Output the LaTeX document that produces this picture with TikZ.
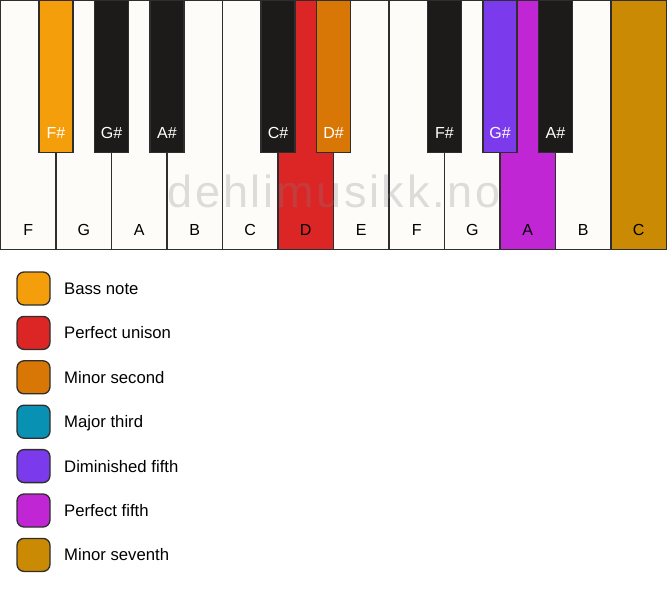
\documentclass[tikz,border=0pt]{standalone}
\usepackage{fontspec}
\setmainfont{Liberation Sans}
\usetikzlibrary{positioning}

\definecolor{ivory}{HTML}{FDFCF9}
\definecolor{ebony}{HTML}{1C1B1A}
\definecolor{keyline}{HTML}{2E2E2E}
\definecolor{bass}{HTML}{F59E0B}
\definecolor{unison}{HTML}{DC2626}
\definecolor{minsecond}{HTML}{D97706}
\definecolor{majthird}{HTML}{0891B2}
\definecolor{dimfifth}{HTML}{7C3AED}
\definecolor{perfifth}{HTML}{C026D3}
\definecolor{minseventh}{HTML}{CA8A04}

\begin{document}
\begin{tikzpicture}[x=1pt,y=-1pt,
			every node/.style={font=\fontsize{16pt}{19pt}\selectfont},
			white key/.style={rectangle,draw=keyline,fill=ivory,line width=1.3pt,
				outer sep=0pt,inner sep=0pt,minimum width=55.5pt,minimum height=249pt},
			black key/.style={rectangle,draw=keyline,fill=ebony,line width=1.3pt,
				outer sep=0pt,inner sep=0pt,minimum width=34pt,minimum height=152pt,anchor=north},
			key label/.style={anchor=south,yshift=10pt},
			bk label/.style={key label,text=white},
			swatch/.style={rectangle,rounded corners=7pt,draw=keyline,line width=1.3pt,
				outer sep=0pt,minimum size=33pt,inner sep=0pt},
			legend text/.style={anchor=west,inner sep=0pt,text height=12pt,text depth=0pt,
				font=\fontsize{16.7pt}{20pt}\selectfont},
			watermark/.style={anchor=base,text=gray,text opacity=0.25,
				font=\fontsize{45pt}{50pt}\selectfont\addfontfeatures{LetterSpace=6}}
			]
			\useasboundingbox (0,0) rectangle (667,594);
			
			% white keys
			\node[white key,anchor=north west,label={[key label]south:F}] (F1) at (0.5,0.5) {};
			\node[white key,right=0pt of F1,label={[key label]south:G}] (G1) {};
			\node[white key,right=0pt of G1,label={[key label]south:A}] (A1) {};
			\node[white key,right=0pt of A1,label={[key label]south:B}] (B1) {};
			\node[white key,right=0pt of B1,label={[key label]south:C}] (C1) {};
			\node[white key,fill=unison,right=0pt of C1,label={[key label]south:D}] (D1) {};
			\node[white key,right=0pt of D1,label={[key label]south:E}] (E1) {};
			\node[white key,right=0pt of E1,label={[key label]south:F}] (F2) {};
			\node[white key,right=0pt of F2,label={[key label]south:G}] (G2) {};
			\node[white key,fill=perfifth,right=0pt of G2,label={[key label]south:A}] (A2) {};
			\node[white key,right=0pt of A2,label={[key label]south:B}] (B2) {};
			\node[white key,fill=minseventh,right=0pt of B2,label={[key label]south:C}] (C2) {};
			
			\node[watermark] (wm) at (334,207) {dehlimusikk.no};
			
			% black keys
			\node[black key,fill=bass,label={[bk label]south:F\#}] (Fs1) at (F1.north east) {};
			\node[black key,label={[bk label]south:G\#}] (Gs1) at (G1.north east) {};
			\node[black key,label={[bk label]south:A\#}] (As1) at (A1.north east) {};
			\node[black key,label={[bk label]south:C\#}] (Cs1) at (C1.north east) {};
			\node[black key,fill=minsecond,label={[bk label]south:D\#}] (Ds1) at (D1.north east) {};
			\node[black key,label={[bk label]south:F\#}] (Fs2) at (F2.north east) {};
			\node[black key,fill=dimfifth,label={[bk label]south:G\#}] (Gs2) at (G2.north east) {};
			\node[black key,label={[bk label]south:A\#}] (As2) at (A2.north east) {};
			
			% legend
			\node[swatch,fill=bass] (L1) at (33.5,288.5) {};
			\node[swatch,fill=unison,below=11.4pt of L1] (L2) {};
			\node[swatch,fill=minsecond,below=11.4pt of L2] (L3) {};
			\node[swatch,fill=majthird,below=11.4pt of L3] (L4) {};
			\node[swatch,fill=dimfifth,below=11.4pt of L4] (L5) {};
			\node[swatch,fill=perfifth,below=11.4pt of L5] (L6) {};
			\node[swatch,fill=minseventh,below=11.4pt of L6] (L7) {};
			
			\node[legend text,right=14pt of L1] (T1) {Bass note};
			\node[legend text,right=14pt of L2] (T2) {Perfect unison};
			\node[legend text,right=14pt of L3] (T3) {Minor second};
			\node[legend text,right=14pt of L4] (T4) {Major third};
			\node[legend text,right=14pt of L5] (T5) {Diminished fifth};
			\node[legend text,right=14pt of L6] (T6) {Perfect fifth};
			\node[legend text,right=14pt of L7] (T7) {Minor seventh};
		\end{tikzpicture}
\end{document}
